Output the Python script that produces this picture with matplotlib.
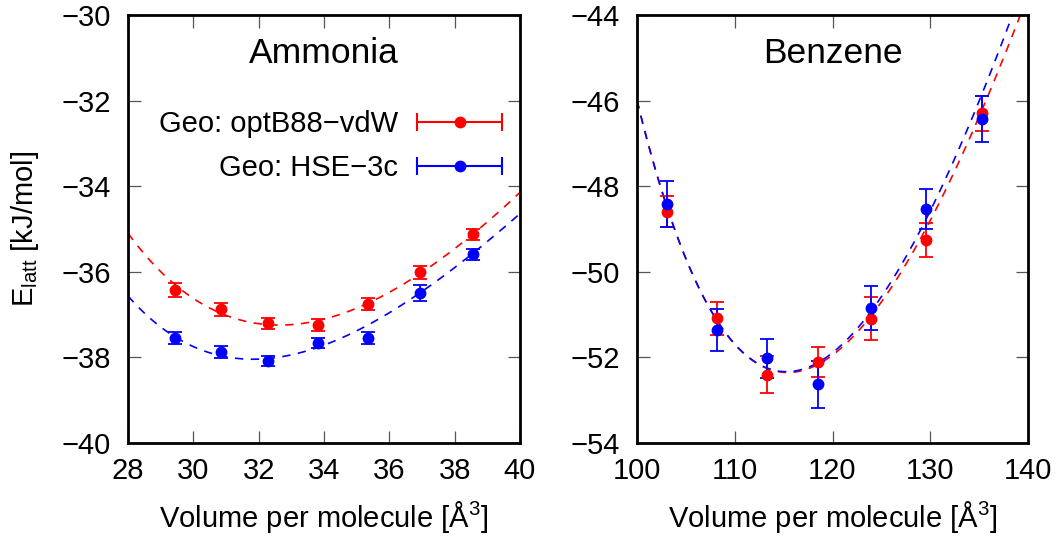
import numpy as np
import matplotlib
matplotlib.use("Agg")
import matplotlib.pyplot as plt
from matplotlib.lines import Line2D
from matplotlib.legend_handler import HandlerLine2D, HandlerTuple

plt.rcParams['font.family'] = ['Liberation Sans', 'DejaVu Sans']
plt.rcParams['mathtext.fontset'] = 'custom'
plt.rcParams['mathtext.rm'] = 'Liberation Sans'
plt.rcParams['mathtext.it'] = 'Liberation Sans:italic'

# ---------------- data points ----------------
amm_vol = [29.44, 30.85, 32.30, 33.82, 35.35, 36.94, 38.57]
amm_opt = [-36.43, -36.88, -37.20, -37.25, -36.75, -36.01, -35.12]
amm_opt_err = [0.17, 0.16, 0.13, 0.14, 0.14, 0.15, 0.13]
amm_hse = [-37.54, -37.87, -38.08, -37.67, -37.55, -36.50, -35.59]
amm_hse_err = [0.14, 0.14, 0.12, 0.12, 0.14, 0.19, 0.13]

benz_vol = [103.1, 108.15, 113.27, 118.5, 123.9, 129.55, 135.3]
benz_opt = [-48.60, -51.09, -52.40, -52.10, -51.10, -49.26, -46.30]
benz_opt_err = [0.36, 0.38, 0.43, 0.35, 0.50, 0.40, 0.41]
benz_hse = [-48.42, -51.36, -52.02, -52.63, -50.84, -48.53, -46.43]
benz_hse_err = [0.53, 0.50, 0.45, 0.55, 0.51, 0.47, 0.54]

# ---------------- fitted EOS curves ----------------
amm_opt_fit_v = [28.04, 28.86, 29.72, 30.39, 31.41, 32.73, 33.65, 34.47, 35.39, 36.92, 38.14, 39.98]
amm_opt_fit_e = [-35.18, -35.80, -36.50, -36.80, -37.17, -37.24, -37.19, -36.97, -36.66, -36.05, -35.45, -34.13]
amm_hse_fit_v = [28.04, 28.96, 29.98, 31.00, 32.33, 33.24, 34.57, 36.00, 37.63, 38.75, 39.88]
amm_hse_fit_e = [-36.62, -37.24, -37.73, -37.98, -38.06, -37.90, -37.52, -36.97, -36.11, -35.41, -34.75]
benz_opt_fit_v = [100.14, 101.84, 104.23, 106.62, 109.35, 112.07, 115.14, 117.87, 120.94,
                  124.35, 127.08, 130.49, 133.90, 137.30, 139.35]
benz_opt_fit_e = [-46.13, -47.54, -49.25, -50.57, -51.55, -52.05, -52.33, -52.21, -51.74,
                  -50.96, -50.03, -48.63, -46.91, -44.97, -44.03]
benz_hse_fit_v = [100.14, 101.84, 104.23, 106.62, 109.35, 112.07, 115.14, 118.20, 121.60,
                  125.03, 127.76, 131.17, 134.24, 137.30, 138.67]
benz_hse_fit_e = [-46.13, -47.54, -49.25, -50.57, -51.55, -52.05, -52.33, -52.09, -51.51,
                  -50.65, -49.64, -48.08, -46.29, -44.58, -43.95]

series_labels = ['Geo: optB88\u2212vdW', 'Geo: HSE\u22123c']
colors = ['#ff0000', '#0000ff']

amm_xlim = (28, 40); amm_ylim = (-40, -30)
benz_xlim = (100, 140); benz_ylim = (-54, -44)
amm_xticks = [28, 30, 32, 34, 36, 38, 40]
amm_yticks = [-40, -38, -36, -34, -32, -30]
benz_xticks = [100, 110, 120, 130, 140]
benz_yticks = [-54, -52, -50, -48, -46, -44]


def bm_curve(v, e, xlim):
    """Birch-Murnaghan form: E is a cubic polynomial in V^(-2/3)."""
    v = np.asarray(v, float); e = np.asarray(e, float)
    c = np.polyfit(v ** (-2.0 / 3.0), e, 3)
    vv = np.linspace(xlim[0], xlim[1], 400)
    return vv, np.polyval(c, vv ** (-2.0 / 3.0))


FS = 21

fig = plt.figure(figsize=(10.6, 5.38), dpi=100)
ax1 = fig.add_axes([128 / 1060, 95 / 538, 392 / 1060, 428 / 538])
ax2 = fig.add_axes([637 / 1060, 95 / 538, 391 / 1060, 428 / 538])

panels = [
    (ax1, 'Ammonia', amm_vol,
     [(amm_opt, amm_opt_err, amm_opt_fit_v, amm_opt_fit_e),
      (amm_hse, amm_hse_err, amm_hse_fit_v, amm_hse_fit_e)],
     amm_xlim, amm_ylim, amm_xticks, amm_yticks),
    (ax2, 'Benzene', benz_vol,
     [(benz_opt, benz_opt_err, benz_opt_fit_v, benz_opt_fit_e),
      (benz_hse, benz_hse_err, benz_hse_fit_v, benz_hse_fit_e)],
     benz_xlim, benz_ylim, benz_xticks, benz_yticks),
]

for ax, title, vol, series, xlim, ylim, xt, yt in panels:
    for (e, err, fv, fe), col in zip(series, colors):
        vv, ee = bm_curve(fv, fe, xlim)
        ax.plot(vv, ee, color=col, lw=1.2, ls=(0, (5, 4.5)), zorder=2)
        ax.errorbar(vol, e, yerr=err, fmt='o', color=col, ms=7.5,
                    elinewidth=1.3, capsize=5, capthick=1.3, zorder=3)
    ax.set_xlim(*xlim); ax.set_ylim(*ylim)
    ax.set_xticks(xt); ax.set_yticks(yt)
    ax.set_xticklabels([str(t) for t in xt])
    ax.set_yticklabels([str(t).replace('-', '\u2212') for t in yt])
    ax.tick_params(direction='in', length=9, width=0.9, color='#555555',
                   top=True, right=True, labelsize=FS)
    ax.tick_params(axis='x', pad=10)
    ax.tick_params(axis='y', pad=12.5)
    for s in ax.spines.values():
        s.set_linewidth(2.0)
    ax.text(0.5, 0.91, title, transform=ax.transAxes, ha='center', va='center',
            fontsize=25.5)
    ax.set_xlabel('Volume per molecule [\u00c5$^3$]', fontsize=FS)
    ax.xaxis.set_label_coords(0.5, -0.13)

ax1.set_ylabel('E$_{\\mathrm{latt}}$ [kJ/mol]', fontsize=FS)
ax1.yaxis.set_label_coords(-0.222, 0.5)

# legend in gnuplot style (text left, horizontal error bar sample right)
handles = []
hmap = {}
for col in colors:
    bar = Line2D([], [], color=col, lw=1.5, marker='|', ms=13, mew=1.5)
    dot = Line2D([], [], color=col, ls='none', marker='o', ms=7.5)
    hmap[bar] = HandlerLine2D(numpoints=2, marker_pad=0)
    hmap[dot] = HandlerLine2D(numpoints=1)
    handles.append((bar, dot))
hmap[tuple] = HandlerTuple(ndivide=1)
ax1.legend(handles, series_labels, handler_map=hmap, loc='upper right',
           bbox_to_anchor=(0.954, 0.777), markerfirst=False, frameon=False,
           fontsize=FS, handlelength=2.91, handletextpad=0.65, labelspacing=0.53,
           borderaxespad=0, borderpad=0)

fig.savefig('out.png', dpi=100)
